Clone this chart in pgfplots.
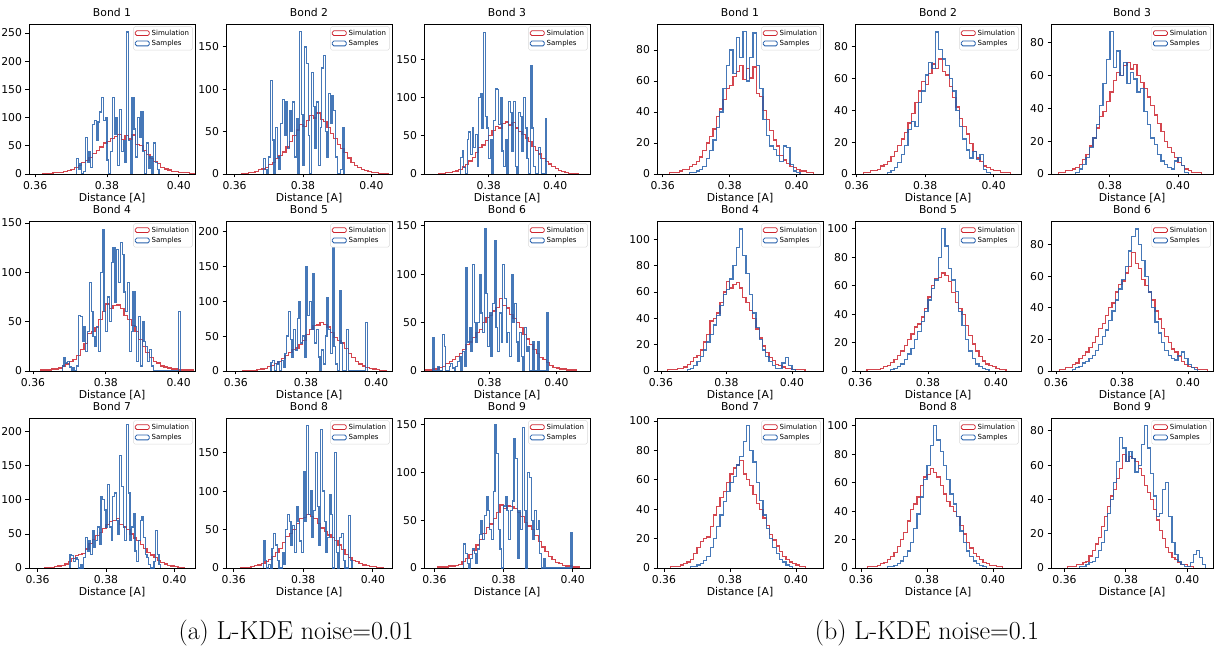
\documentclass[border=0pt]{standalone}
\usepackage{fontspec}
\usepackage{pgfplots}
\usepackage{pgfplotstable}
\pgfplotsset{compat=1.18}
\newfontfamily\dejavu{DejaVu Sans}
\definecolor{simred}{RGB}{205,38,48}
\definecolor{smpblue}{RGB}{38,96,172}
\pgfplotsset{
 /pgf/number format/assume math mode=true,
 panel/.style={
  scale only axis, width=166pt, height=150pt, anchor=south west,
  tick pos=left, tick align=outside, major tick length=3.5pt,
  every tick/.style={black, line width=0.8pt},
  axis line style={line width=0.8pt},
  ticklabel style={font=\dejavu\fontsize{10.8}{12}\selectfont},
  xtick={0.36,0.38,0.40},
  xticklabel style={/pgf/number format/.cd, fixed, fixed zerofill, precision=2},
  scaled x ticks=false, scaled y ticks=false,
  ymin=0,
  xlabel={Distance [A]},
  label style={font=\dejavu\fontsize{10.8}{12}\selectfont},
  xlabel style={yshift=3pt},
  title style={font=\dejavu\fontsize{10.8}{12}\selectfont, yshift=-2.5pt},
  legend style={at={(0.985,0.985)}, anchor=north east, font=\dejavu\fontsize{7}{8}\selectfont, draw=black!15, rounded corners=1.5pt, inner sep=1.3pt, row sep=-0.5pt},
  legend cell align=left,
  legend image code/.code={\draw[##1,line width=0.8pt,opacity=1] (0pt,-2.4pt) rectangle (14pt,2.4pt);},
 },
 sim/.style={const plot mark left, simred, line width=1.25pt, opacity=0.85, no marks},
 smp/.style={const plot mark left, smpblue, line width=1.25pt, opacity=0.85, no marks},
}
% ---------- simulation histograms (shared by both halves) ----------
\pgfplotstableread[row sep=\\]{x y\\0.362 0\\0.362 1\\0.363 1\\0.364 1\\0.365 2\\0.366 3\\0.367 3\\0.368 5\\0.369 6\\0.370 8\\0.371 11\\0.372 15\\0.373 20\\0.374 24\\0.375 29\\0.376 37\\0.377 42\\0.378 48\\0.379 55\\0.380 57\\0.381 63\\0.382 66\\0.383 70\\0.384 61\\0.385 68\\0.386 62\\0.387 69\\0.388 52\\0.389 50\\0.390 41\\0.391 35\\0.392 28\\0.393 22\\0.394 18\\0.395 12\\0.396 9\\0.397 7\\0.398 5\\0.399 4\\0.400 3\\0.401 2\\0.402 2\\0.403 1\\0.404 1\\0.405 0\\}\simA
\pgfplotstableread[row sep=\\]{x y\\0.362 0\\0.362 1\\0.363 1\\0.364 2\\0.365 2\\0.366 3\\0.367 5\\0.368 6\\0.369 8\\0.370 11\\0.371 14\\0.372 18\\0.373 22\\0.374 26\\0.375 32\\0.376 38\\0.377 45\\0.378 52\\0.379 58\\0.380 56\\0.381 63\\0.382 69\\0.383 66\\0.384 72\\0.385 64\\0.386 62\\0.387 55\\0.388 48\\0.389 42\\0.390 35\\0.391 30\\0.392 25\\0.393 19\\0.394 14\\0.395 10\\0.396 8\\0.397 5\\0.398 4\\0.399 3\\0.400 2\\0.401 2\\0.402 1\\0.403 1\\0.404 1\\0.405 0\\}\simB
\pgfplotstableread[row sep=\\]{x y\\0.365 0\\0.365 1\\0.366 1\\0.367 2\\0.368 2\\0.369 3\\0.370 4\\0.371 6\\0.372 9\\0.373 12\\0.374 17\\0.375 22\\0.376 28\\0.377 35\\0.378 38\\0.379 44\\0.380 50\\0.381 57\\0.382 62\\0.383 60\\0.384 66\\0.385 68\\0.386 64\\0.387 67\\0.388 60\\0.389 56\\0.390 52\\0.391 47\\0.392 42\\0.393 36\\0.394 31\\0.395 26\\0.396 20\\0.397 16\\0.398 13\\0.399 10\\0.400 7\\0.401 5\\0.402 3\\0.403 2\\0.404 1\\0.405 1\\0.406 1\\0.407 0\\}\simC
\pgfplotstableread[row sep=\\]{x y\\0.362 0\\0.362 1\\0.363 1\\0.364 1\\0.365 2\\0.366 2\\0.367 3\\0.368 5\\0.369 7\\0.370 10\\0.371 12\\0.372 16\\0.373 22\\0.374 28\\0.375 38\\0.376 40\\0.377 44\\0.378 52\\0.379 60\\0.380 68\\0.381 63\\0.382 66\\0.383 67\\0.384 63\\0.385 56\\0.386 52\\0.387 46\\0.388 40\\0.389 32\\0.390 25\\0.391 19\\0.392 14\\0.393 10\\0.394 8\\0.395 5\\0.396 4\\0.397 3\\0.398 2\\0.399 2\\0.400 1\\0.401 1\\0.402 1\\0.403 1\\0.404 0\\}\simD
\pgfplotstableread[row sep=\\]{x y\\0.362 0\\0.362 1\\0.363 1\\0.364 1\\0.365 1\\0.366 2\\0.367 3\\0.368 4\\0.369 6\\0.370 8\\0.371 11\\0.372 14\\0.373 18\\0.374 22\\0.375 26\\0.376 31\\0.377 33\\0.378 38\\0.379 44\\0.380 52\\0.381 60\\0.382 65\\0.383 66\\0.384 69\\0.385 67\\0.386 63\\0.387 55\\0.388 48\\0.389 44\\0.390 40\\0.391 32\\0.392 25\\0.393 19\\0.394 14\\0.395 10\\0.396 7\\0.397 5\\0.398 4\\0.399 3\\0.400 2\\0.401 1\\0.402 1\\0.403 0\\}\simE
\pgfplotstableread[row sep=\\]{x y\\0.361 0\\0.361 1\\0.362 1\\0.363 2\\0.364 2\\0.365 4\\0.366 5\\0.367 8\\0.368 10\\0.369 12\\0.370 15\\0.371 18\\0.372 22\\0.373 27\\0.374 30\\0.375 35\\0.376 40\\0.377 43\\0.378 50\\0.379 55\\0.380 57\\0.381 62\\0.382 66\\0.383 75\\0.384 68\\0.385 65\\0.386 58\\0.387 54\\0.388 50\\0.389 45\\0.390 38\\0.391 33\\0.392 27\\0.393 22\\0.394 18\\0.395 14\\0.396 12\\0.397 9\\0.398 6\\0.399 4\\0.400 3\\0.401 2\\0.402 2\\0.403 1\\0.404 1\\0.405 1\\0.406 0\\}\simF
\pgfplotstableread[row sep=\\]{x y\\0.362 0\\0.362 1\\0.363 1\\0.364 1\\0.365 2\\0.366 3\\0.367 4\\0.368 6\\0.369 10\\0.370 14\\0.371 18\\0.372 20\\0.373 21\\0.374 28\\0.375 36\\0.376 42\\0.377 48\\0.378 52\\0.379 58\\0.380 64\\0.381 68\\0.382 70\\0.383 73\\0.384 64\\0.385 60\\0.386 56\\0.387 50\\0.388 44\\0.389 40\\0.390 34\\0.391 29\\0.392 23\\0.393 19\\0.394 15\\0.395 11\\0.396 8\\0.397 6\\0.398 4\\0.399 3\\0.400 2\\0.401 1\\0.402 1\\0.403 0\\}\simG
\pgfplotstableread[row sep=\\]{x y\\0.362 0\\0.362 1\\0.363 1\\0.364 1\\0.365 2\\0.366 3\\0.367 4\\0.368 6\\0.369 8\\0.370 11\\0.371 15\\0.372 20\\0.373 25\\0.374 33\\0.375 41\\0.376 45\\0.377 50\\0.378 58\\0.379 64\\0.380 66\\0.381 70\\0.382 67\\0.383 64\\0.384 58\\0.385 52\\0.386 47\\0.387 43\\0.388 40\\0.389 36\\0.390 30\\0.391 24\\0.392 18\\0.393 14\\0.394 10\\0.395 8\\0.396 6\\0.397 4\\0.398 3\\0.399 2\\0.400 2\\0.401 1\\0.402 1\\0.403 0\\}\simH
\pgfplotstableread[row sep=\\]{x y\\0.361 0\\0.361 1\\0.362 1\\0.363 1\\0.364 2\\0.365 2\\0.366 3\\0.367 4\\0.368 7\\0.369 10\\0.370 14\\0.371 18\\0.372 24\\0.373 30\\0.374 36\\0.375 42\\0.376 46\\0.377 52\\0.378 58\\0.379 66\\0.380 62\\0.381 65\\0.382 64\\0.383 62\\0.384 58\\0.385 54\\0.386 48\\0.387 44\\0.388 40\\0.389 34\\0.390 28\\0.391 22\\0.392 17\\0.393 12\\0.394 9\\0.395 6\\0.396 5\\0.397 3\\0.398 2\\0.399 2\\0.400 1\\0.401 1\\0.402 0\\}\simI
% ---------- samples, L-KDE noise=0.01 ----------
\pgfplotstableread[row sep=\\]{x y\\0.3715 0\\0.3715 28\\0.3720 8\\0.3725 18\\0.3730 0\\0.3735 5\\0.3740 65\\0.3745 20\\0.3750 40\\0.3755 12\\0.3760 88\\0.3765 95\\0.3770 60\\0.3775 92\\0.3780 110\\0.3785 135\\0.3790 95\\0.3795 100\\0.3800 25\\0.3805 0\\0.3810 40\\0.3815 135\\0.3820 70\\0.3825 100\\0.3830 15\\0.3835 115\\0.3840 40\\0.3845 60\\0.3850 20\\0.3855 252\\0.3860 60\\0.3865 0\\0.3870 135\\0.3875 80\\0.3880 30\\0.3885 100\\0.3890 65\\0.3895 110\\0.3900 40\\0.3905 0\\0.3910 55\\0.3915 10\\0.3920 30\\0.3925 0\\0.3930 55\\0.3935 20\\0.3940 8\\0.3945 0\\}\lsA
\pgfplotstableread[row sep=\\]{x y\\0.3685 0\\0.3685 18\\0.3690 5\\0.3695 0\\0.3700 20\\0.3705 110\\0.3710 40\\0.3715 0\\0.3720 55\\0.3725 20\\0.3730 5\\0.3735 60\\0.3740 88\\0.3745 45\\0.3750 85\\0.3755 30\\0.3760 75\\0.3765 50\\0.3770 85\\0.3775 20\\0.3780 65\\0.3785 0\\0.3790 168\\0.3795 70\\0.3800 10\\0.3805 150\\0.3810 130\\0.3815 45\\0.3820 0\\0.3825 120\\0.3830 80\\0.3835 30\\0.3840 85\\0.3845 10\\0.3850 55\\0.3855 125\\0.3860 140\\0.3865 50\\0.3870 20\\0.3875 95\\0.3880 60\\0.3885 92\\0.3890 75\\0.3895 20\\0.3900 0\\0.3910 5\\0.3915 55\\0.3920 0\\}\lsB
\pgfplotstableread[row sep=\\]{x y\\0.3715 0\\0.3715 22\\0.3720 30\\0.3725 8\\0.3730 0\\0.3735 45\\0.3740 55\\0.3745 25\\0.3750 60\\0.3755 35\\0.3760 52\\0.3765 10\\0.3770 100\\0.3775 105\\0.3780 60\\0.3785 185\\0.3790 75\\0.3795 60\\0.3800 20\\0.3805 45\\0.3810 0\\0.3815 70\\0.3820 112\\0.3825 110\\0.3830 65\\0.3835 100\\0.3840 30\\0.3845 10\\0.3850 45\\0.3855 0\\0.3860 95\\0.3865 80\\0.3870 30\\0.3875 95\\0.3880 10\\0.3885 0\\0.3890 80\\0.3895 75\\0.3900 30\\0.3905 100\\0.3910 60\\0.3915 20\\0.3920 0\\0.3925 142\\0.3930 60\\0.3935 10\\0.3940 0\\0.3950 35\\0.3955 20\\0.3960 0\\0.3970 72\\0.3975 0\\}\lsC
\pgfplotstableread[row sep=\\]{x y\\0.3680 0\\0.3680 5\\0.3685 14\\0.3690 8\\0.3695 10\\0.3700 4\\0.3705 0\\0.3710 3\\0.3715 0\\0.3720 5\\0.3725 56\\0.3730 55\\0.3735 30\\0.3740 45\\0.3745 20\\0.3750 40\\0.3755 90\\0.3760 60\\0.3765 35\\0.3770 25\\0.3775 45\\0.3780 20\\0.3785 100\\0.3790 143\\0.3795 60\\0.3800 40\\0.3805 75\\0.3810 50\\0.3815 110\\0.3820 125\\0.3825 70\\0.3830 123\\0.3835 90\\0.3840 130\\0.3845 118\\0.3850 80\\0.3855 60\\0.3860 90\\0.3865 20\\0.3870 40\\0.3875 80\\0.3880 45\\0.3885 10\\0.3890 55\\0.3895 5\\0.3900 50\\0.3905 30\\0.3910 25\\0.3915 10\\0.3920 22\\0.3925 5\\0.3930 0\\0.4000 60\\0.4005 0\\}\lsD
\pgfplotstableread[row sep=\\]{x y\\0.3700 0\\0.3700 12\\0.3705 15\\0.3710 0\\0.3715 10\\0.3720 14\\0.3725 0\\0.3730 15\\0.3735 5\\0.3740 25\\0.3745 50\\0.3750 85\\0.3755 45\\0.3760 20\\0.3765 60\\0.3770 30\\0.3775 75\\0.3780 100\\0.3785 40\\0.3790 50\\0.3795 20\\0.3800 150\\0.3805 80\\0.3810 100\\0.3815 60\\0.3820 140\\0.3825 40\\0.3830 60\\0.3835 20\\0.3840 0\\0.3845 30\\0.3850 10\\0.3855 50\\0.3860 105\\0.3865 60\\0.3870 25\\0.3875 205\\0.3880 35\\0.3885 10\\0.3890 0\\0.3895 115\\0.3900 40\\0.3905 0\\0.3915 60\\0.3920 0\\0.3970 70\\0.3975 0\\}\lsE
\pgfplotstableread[row sep=\\]{x y\\0.3630 0\\0.3630 35\\0.3635 0\\0.3645 5\\0.3650 0\\0.3660 38\\0.3665 25\\0.3670 0\\0.3680 5\\0.3685 8\\0.3690 3\\0.3695 0\\0.3700 5\\0.3705 10\\0.3710 15\\0.3715 0\\0.3720 20\\0.3725 5\\0.3730 107\\0.3735 30\\0.3740 45\\0.3745 20\\0.3750 110\\0.3755 50\\0.3760 30\\0.3765 50\\0.3770 100\\0.3775 60\\0.3780 40\\0.3785 147\\0.3790 80\\0.3795 25\\0.3800 60\\0.3805 15\\0.3810 70\\0.3815 135\\0.3820 45\\0.3825 20\\0.3830 60\\0.3835 30\\0.3840 110\\0.3845 75\\0.3850 30\\0.3855 40\\0.3860 15\\0.3865 100\\0.3870 50\\0.3875 70\\0.3880 30\\0.3885 10\\0.3890 40\\0.3895 15\\0.3900 0\\0.3905 45\\0.3910 20\\0.3915 25\\0.3920 0\\0.3930 30\\0.3935 0\\0.3945 30\\0.3950 0\\0.3970 60\\0.3975 0\\}\lsF
\pgfplotstableread[row sep=\\]{x y\\0.3695 0\\0.3695 20\\0.3700 18\\0.3705 10\\0.3710 15\\0.3715 12\\0.3720 0\\0.3725 5\\0.3730 0\\0.3735 15\\0.3740 45\\0.3745 25\\0.3750 40\\0.3755 20\\0.3760 55\\0.3765 30\\0.3770 40\\0.3775 60\\0.3780 35\\0.3785 105\\0.3790 100\\0.3795 85\\0.3800 60\\0.3805 122\\0.3810 60\\0.3815 40\\0.3820 105\\0.3825 110\\0.3830 70\\0.3835 50\\0.3840 165\\0.3845 120\\0.3850 60\\0.3855 40\\0.3860 210\\0.3865 110\\0.3870 40\\0.3875 60\\0.3880 80\\0.3885 25\\0.3890 10\\0.3895 40\\0.3900 70\\0.3905 75\\0.3910 45\\0.3915 20\\0.3920 15\\0.3925 5\\0.3930 0\\0.3940 10\\0.3945 55\\0.3950 20\\0.3955 5\\0.3960 0\\}\lsG
\pgfplotstableread[row sep=\\]{x y\\0.3685 0\\0.3685 35\\0.3690 10\\0.3695 0\\0.3700 5\\0.3705 0\\0.3710 25\\0.3715 45\\0.3720 30\\0.3725 10\\0.3730 0\\0.3740 20\\0.3745 5\\0.3750 50\\0.3755 70\\0.3760 60\\0.3765 30\\0.3770 55\\0.3775 20\\0.3780 80\\0.3785 60\\0.3790 35\\0.3795 20\\0.3800 125\\0.3805 60\\0.3810 185\\0.3815 70\\0.3820 100\\0.3825 40\\0.3830 75\\0.3835 150\\0.3840 80\\0.3845 30\\0.3850 180\\0.3855 100\\0.3860 60\\0.3865 20\\0.3870 40\\0.3875 95\\0.3880 70\\0.3885 0\\0.3890 150\\0.3895 20\\0.3900 0\\0.3905 40\\0.3910 45\\0.3915 10\\0.3920 0\\0.3930 68\\0.3935 10\\0.3940 0\\}\lsH
\pgfplotstableread[row sep=\\]{x y\\0.3685 0\\0.3685 25\\0.3690 15\\0.3695 5\\0.3700 0\\0.3705 10\\0.3710 20\\0.3715 15\\0.3720 5\\0.3725 20\\0.3730 35\\0.3735 50\\0.3740 30\\0.3745 55\\0.3750 75\\0.3755 60\\0.3760 40\\0.3765 30\\0.3770 80\\0.3775 150\\0.3780 120\\0.3785 40\\0.3790 20\\0.3795 0\\0.3800 65\\0.3805 75\\0.3810 60\\0.3815 30\\0.3820 60\\0.3825 70\\0.3830 135\\0.3835 115\\0.3840 10\\0.3845 60\\0.3850 40\\0.3855 147\\0.3860 60\\0.3865 0\\0.3870 100\\0.3875 95\\0.3880 50\\0.3885 30\\0.3890 60\\0.3895 40\\0.3900 50\\0.3905 15\\0.3910 0\\0.3915 10\\0.3920 0\\0.3995 37\\0.4000 0\\}\lsI
% ---------- samples, L-KDE noise=0.1 ----------
\pgfplotstableread[row sep=\\]{x y\\0.368 0\\0.368 1\\0.369 1\\0.370 2\\0.371 3\\0.372 5\\0.373 10\\0.374 15\\0.375 22\\0.376 30\\0.377 40\\0.378 55\\0.379 70\\0.380 80\\0.381 65\\0.382 88\\0.383 75\\0.384 92\\0.385 60\\0.386 75\\0.387 91\\0.388 70\\0.389 55\\0.390 35\\0.391 25\\0.392 18\\0.393 16\\0.394 12\\0.395 8\\0.396 18\\0.397 17\\0.398 6\\0.399 2\\0.400 1\\0.401 0\\}\rsA
\pgfplotstableread[row sep=\\]{x y\\0.369 0\\0.369 1\\0.370 2\\0.371 4\\0.372 7\\0.373 12\\0.374 18\\0.375 28\\0.376 33\\0.377 30\\0.378 45\\0.379 52\\0.380 62\\0.381 70\\0.382 66\\0.383 89\\0.384 78\\0.385 72\\0.386 68\\0.387 60\\0.388 52\\0.389 40\\0.390 30\\0.391 22\\0.392 15\\0.393 10\\0.394 14\\0.395 9\\0.396 12\\0.397 3\\0.398 1\\0.399 0\\}\rsB
\pgfplotstableread[row sep=\\]{x y\\0.370 0\\0.370 1\\0.371 3\\0.372 6\\0.373 10\\0.374 16\\0.375 22\\0.376 30\\0.377 42\\0.378 55\\0.379 70\\0.380 87\\0.381 65\\0.382 75\\0.383 60\\0.384 68\\0.385 55\\0.386 62\\0.387 58\\0.388 50\\0.389 52\\0.390 38\\0.391 30\\0.392 22\\0.393 18\\0.394 12\\0.395 8\\0.396 6\\0.397 4\\0.398 3\\0.399 8\\0.400 10\\0.401 5\\0.402 1\\0.403 0\\}\rsC
\pgfplotstableread[row sep=\\]{x y\\0.368 0\\0.368 1\\0.369 2\\0.370 4\\0.371 7\\0.372 11\\0.373 16\\0.374 22\\0.375 28\\0.376 35\\0.377 42\\0.378 50\\0.379 58\\0.380 62\\0.381 70\\0.382 80\\0.383 94\\0.384 108\\0.385 88\\0.386 74\\0.387 58\\0.388 44\\0.389 33\\0.390 24\\0.391 16\\0.392 11\\0.393 7\\0.394 4\\0.395 2\\0.396 2\\0.397 6\\0.398 10\\0.399 4\\0.400 1\\0.401 0\\}\rsD
\pgfplotstableread[row sep=\\]{x y\\0.369 0\\0.369 1\\0.370 2\\0.371 3\\0.372 5\\0.373 8\\0.374 12\\0.375 16\\0.376 22\\0.377 28\\0.378 35\\0.379 42\\0.380 50\\0.381 58\\0.382 64\\0.383 80\\0.384 100\\0.385 88\\0.386 72\\0.387 64\\0.388 56\\0.389 42\\0.390 32\\0.391 22\\0.392 14\\0.393 9\\0.394 5\\0.395 3\\0.396 2\\0.397 1\\0.398 0\\}\rsE
\pgfplotstableread[row sep=\\]{x y\\0.365 0\\0.365 1\\0.366 2\\0.367 3\\0.368 5\\0.369 6\\0.370 8\\0.371 10\\0.372 13\\0.373 17\\0.374 22\\0.375 26\\0.376 32\\0.377 38\\0.378 45\\0.379 52\\0.380 58\\0.381 66\\0.382 76\\0.383 85\\0.384 90\\0.385 80\\0.386 70\\0.387 60\\0.388 50\\0.389 40\\0.390 31\\0.391 24\\0.392 18\\0.393 13\\0.394 10\\0.395 8\\0.396 7\\0.397 10\\0.398 12\\0.399 8\\0.400 4\\0.401 2\\0.402 1\\0.403 0\\}\rsF
\pgfplotstableread[row sep=\\]{x y\\0.368 0\\0.368 1\\0.369 1\\0.370 2\\0.371 3\\0.372 5\\0.373 8\\0.374 14\\0.375 20\\0.376 28\\0.377 36\\0.378 45\\0.379 52\\0.380 58\\0.381 62\\0.382 70\\0.383 76\\0.384 86\\0.385 97\\0.386 80\\0.387 72\\0.388 58\\0.389 46\\0.390 36\\0.391 27\\0.392 20\\0.393 14\\0.394 10\\0.395 6\\0.396 4\\0.397 2\\0.398 1\\0.399 0\\}\rsG
\pgfplotstableread[row sep=\\]{x y\\0.368 0\\0.368 1\\0.369 1\\0.370 2\\0.371 3\\0.372 5\\0.373 8\\0.374 12\\0.375 18\\0.376 28\\0.377 38\\0.378 50\\0.379 62\\0.380 72\\0.381 86\\0.382 100\\0.383 90\\0.384 82\\0.385 72\\0.386 62\\0.387 52\\0.388 45\\0.389 36\\0.390 26\\0.391 18\\0.392 12\\0.393 8\\0.394 5\\0.395 3\\0.396 2\\0.397 1\\0.398 0\\}\rsH
\pgfplotstableread[row sep=\\]{x y\\0.365 0\\0.365 1\\0.366 1\\0.367 2\\0.368 3\\0.369 4\\0.370 6\\0.371 10\\0.372 15\\0.373 22\\0.374 32\\0.375 40\\0.376 50\\0.377 62\\0.378 76\\0.379 70\\0.380 62\\0.381 68\\0.382 64\\0.383 56\\0.384 60\\0.385 72\\0.386 83\\0.387 70\\0.388 55\\0.389 42\\0.390 30\\0.391 32\\0.392 46\\0.393 50\\0.394 30\\0.395 15\\0.396 8\\0.397 4\\0.398 2\\0.399 1\\0.400 1\\0.401 3\\0.402 8\\0.403 10\\0.404 6\\0.405 2\\0.406 0\\}\rsI
\begin{document}
\begin{tikzpicture}
\path[use as bounding box] (0,0) rectangle (1214pt,645pt);
% ===== left half =====
\begin{axis}[panel, at={(29pt,471pt)}, xmin=0.3583, xmax=0.4045, ymax=266, ytick={0,50,...,250}, title={Bond 1}]
\addplot[sim] table {\simA}; \addplot[smp] table {\lsA}; \legend{Simulation,Samples}
\end{axis}
\begin{axis}[panel, at={(226pt,471pt)}, xmin=0.3575, xmax=0.4060, ymax=177, ytick={0,50,...,150}, title={Bond 2}]
\addplot[sim] table {\simB}; \addplot[smp] table {\lsB}; \legend{Simulation,Samples}
\end{axis}
\begin{axis}[panel, at={(424pt,471pt)}, xmin=0.3605, xmax=0.4105, ymax=196, ytick={0,50,...,150}, title={Bond 3}]
\addplot[sim] table {\simC}; \addplot[smp] table {\lsC}; \legend{Simulation,Samples}
\end{axis}
\begin{axis}[panel, at={(29pt,274pt)}, xmin=0.3589, xmax=0.4045, ymax=152, ytick={0,50,...,150}, title={Bond 4}]
\addplot[sim] table {\simD}; \addplot[smp] table {\lsD}; \legend{Simulation,Samples}
\end{axis}
\begin{axis}[panel, at={(226pt,274pt)}, xmin=0.3572, xmax=0.4045, ymax=215, ytick={0,50,...,200}, title={Bond 5}]
\addplot[sim] table {\simE}; \addplot[smp] table {\lsE}; \legend{Simulation,Samples}
\end{axis}
\begin{axis}[panel, at={(424pt,274pt)}, xmin=0.3605, xmax=0.4100, ymax=155, ytick={0,50,...,150}, title={Bond 6}]
\addplot[sim] table {\simF}; \addplot[smp] table {\lsF}; \legend{Simulation,Samples}
\end{axis}
\begin{axis}[panel, at={(29pt,77pt)}, xmin=0.3575, xmax=0.4060, ymax=220, ytick={0,50,...,200}, title={Bond 7}]
\addplot[sim] table {\simG}; \addplot[smp] table {\lsG}; \legend{Simulation,Samples}
\end{axis}
\begin{axis}[panel, at={(226pt,77pt)}, xmin=0.3578, xmax=0.4055, ymax=195, ytick={0,50,...,150}, title={Bond 8}]
\addplot[sim] table {\simH}; \addplot[smp] table {\lsH}; \legend{Simulation,Samples}
\end{axis}
\begin{axis}[panel, at={(424pt,77pt)}, xmin=0.3570, xmax=0.4050, ymax=157, ytick={0,50,...,150}, title={Bond 9}]
\addplot[sim] table {\simI}; \addplot[smp] table {\lsI}; \legend{Simulation,Samples}
\end{axis}
% ===== right half =====
\begin{axis}[panel, at={(657pt,471pt)}, xmin=0.3583, xmax=0.4079, ymax=96.8, ytick={0,20,...,80}, title={Bond 1}]
\addplot[sim] table {\simA}; \addplot[smp] table {\rsA}; \legend{Simulation,Samples}
\end{axis}
\begin{axis}[panel, at={(855pt,471pt)}, xmin=0.3595, xmax=0.4080, ymax=94, ytick={0,20,...,80}, title={Bond 2}]
\addplot[sim] table {\simB}; \addplot[smp] table {\rsB}; \legend{Simulation,Samples}
\end{axis}
\begin{axis}[panel, width=162pt, at={(1051pt,471pt)}, xmin=0.3627, xmax=0.4103, ymax=91.5, ytick={0,20,...,80}, title={Bond 3}]
\addplot[sim] table {\simC}; \addplot[smp] table {\rsC}; \legend{Simulation,Samples}
\end{axis}
\begin{axis}[panel, at={(657pt,274pt)}, xmin=0.3588, xmax=0.4095, ymax=114, ytick={0,20,...,100}, title={Bond 4}]
\addplot[sim] table {\simD}; \addplot[smp] table {\rsD}; \legend{Simulation,Samples}
\end{axis}
\begin{axis}[panel, at={(855pt,274pt)}, xmin=0.3585, xmax=0.4074, ymax=105.5, ytick={0,20,...,100}, title={Bond 5}]
\addplot[sim] table {\simE}; \addplot[smp] table {\rsE}; \legend{Simulation,Samples}
\end{axis}
\begin{axis}[panel, width=162pt, at={(1051pt,274pt)}, xmin=0.3585, xmax=0.4076, ymax=95, ytick={0,20,...,80}, title={Bond 6}]
\addplot[sim] table {\simF}; \addplot[smp] table {\rsF}; \legend{Simulation,Samples}
\end{axis}
\begin{axis}[panel, at={(657pt,77pt)}, xmin=0.3579, xmax=0.4082, ymax=102, ytick={0,20,...,100}, title={Bond 7}]
\addplot[sim] table {\simG}; \addplot[smp] table {\rsG}; \legend{Simulation,Samples}
\end{axis}
\begin{axis}[panel, at={(855pt,77pt)}, xmin=0.3582, xmax=0.4085, ymax=105.5, ytick={0,20,...,100}, title={Bond 8}]
\addplot[sim] table {\simH}; \addplot[smp] table {\rsH}; \legend{Simulation,Samples}
\end{axis}
\begin{axis}[panel, width=162pt, at={(1051pt,77pt)}, xmin=0.3556, xmax=0.4084, ymax=87.5, ytick={0,20,...,80}, title={Bond 9}]
\addplot[sim] table {\simI}; \addplot[smp] table {\rsI}; \legend{Simulation,Samples}
\end{axis}
% ===== captions =====
\node[font=\fontsize{26}{30}\selectfont, anchor=base] at (296pt,6pt) {(a) L-KDE noise=0.01};
\node[font=\fontsize{26}{30}\selectfont, anchor=base] at (927pt,6pt) {(b) L-KDE noise=0.1};
\end{tikzpicture}
\end{document}
